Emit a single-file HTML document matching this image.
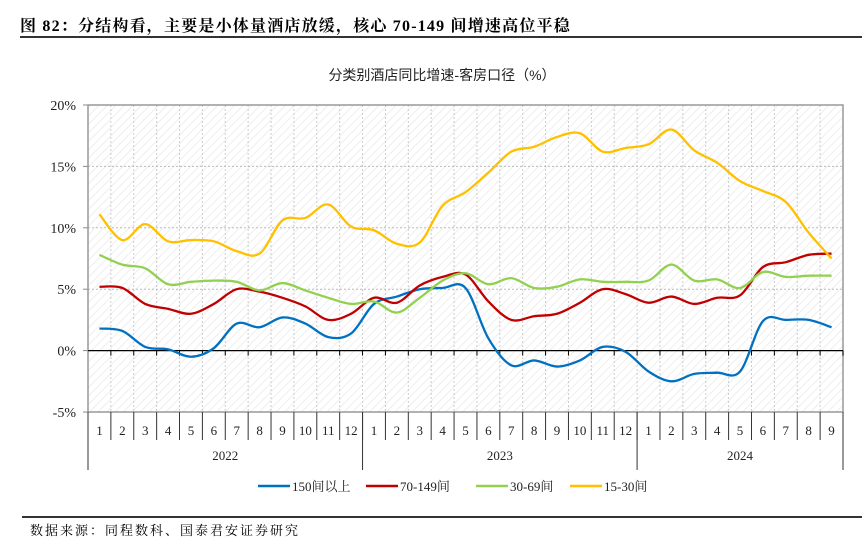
<!DOCTYPE html>
<html><head><meta charset="utf-8"><style>
body{margin:0;background:#fff;width:862px;height:556px;overflow:hidden;font-family:"Liberation Serif","Noto Serif CJK SC",serif;}
#hdr{position:absolute;left:20px;top:13px;font-size:16px;font-weight:bold;letter-spacing:1.2px;white-space:nowrap;}
#hline{position:absolute;left:20px;top:36px;width:842px;height:2px;background:#333;}
#fline{position:absolute;left:22px;top:516px;width:840px;height:2px;background:#333;}
#src{position:absolute;left:30px;top:520px;font-size:13px;letter-spacing:2px;white-space:nowrap;}
svg{position:absolute;left:0;top:0}
</style></head><body>
<div id="hdr">图 82：分结构看，主要是小体量酒店放缓，核心 70-149 间增速高位平稳</div>
<div id="hline"></div>
<svg id="chart" width="862" height="556">
<defs><pattern id="hatch" width="6" height="6" patternUnits="userSpaceOnUse" patternTransform="rotate(45)"><rect width="6" height="6" fill="#fff"/><line x1="0" y1="0" x2="0" y2="6" stroke="#eee" stroke-width="2"/></pattern></defs>
</svg>
<div id="fline"></div>
<div id="src">数据来源：同程数科、国泰君安证券研究</div>
<script>
const months=[1,2,3,4,5,6,7,8,9,10,11,12,1,2,3,4,5,6,7,8,9,10,11,12,1,2,3,4,5,6,7,8,9];
const years=["2022","2023","2024"];
const yearCounts=[12,12,9];
const yTicks=[-5,0,5,10,15,20];
const seriesNames=["150间以上","70-149间","30-69间","15-30间"];
const seriesColors=["#0070C0","#C00000","#92D050","#FFC000"];
const s150=[1.8,1.6,0.3,0.1,-0.5,0.2,2.2,1.9,2.7,2.2,1.1,1.4,3.8,4.4,5.0,5.1,5.1,1.0,-1.2,-0.8,-1.3,-0.8,0.3,-0.1,-1.7,-2.5,-1.9,-1.8,-1.7,2.4,2.5,2.5,1.9];
const s70=[5.2,5.1,3.8,3.4,3.0,3.8,5.0,4.8,4.3,3.6,2.5,3.0,4.3,3.9,5.3,6.0,6.2,4.0,2.5,2.8,3.0,3.9,5.0,4.6,3.9,4.4,3.8,4.3,4.5,6.8,7.2,7.8,7.9];
const s30=[7.8,7.0,6.7,5.4,5.6,5.7,5.6,4.9,5.5,4.9,4.3,3.8,4.0,3.1,4.3,5.7,6.3,5.4,5.9,5.1,5.2,5.8,5.6,5.6,5.7,7.0,5.7,5.8,5.1,6.4,6.0,6.1,6.1];
const s15=[11.1,9.0,10.3,8.9,9.0,8.9,8.1,7.9,10.6,10.8,11.9,10.1,9.8,8.7,8.8,11.8,12.9,14.5,16.2,16.6,17.4,17.7,16.2,16.5,16.8,18.0,16.3,15.3,13.8,13.0,12.1,9.6,7.5];
const series=[s150,s70,s30,s15];
const L=88,R=843,T=105,B=412,ymin=-5,ymax=20;
const n=months.length,cw=(R-L)/n;
const X=i=>L+cw*(i+0.5);
const Y=v=>B-(v-ymin)/(ymax-ymin)*(B-T);
const svg=document.getElementById('chart');
const NS='http://www.w3.org/2000/svg';
function mk(tag,attrs,parent){const e=document.createElementNS(NS,tag);for(const k in attrs)e.setAttribute(k,attrs[k]);(parent||svg).appendChild(e);return e;}
let e;
e=mk('text',{x:442,y:80,'text-anchor':'middle','font-size':14,'font-family':'"Liberation Sans","Noto Sans CJK SC",sans-serif',fill:'#222'});e.textContent='分类别酒店同比增速-客房口径（%）';


e=mk('rect',{x:L,y:T,width:R-L,height:B-T,fill:'url(#hatch)'});


for(let i=1;i<n;i++){e=mk('line',{x1:L+cw*i,x2:L+cw*i,y1:T,y2:B,stroke:'#ccc','stroke-dasharray':'2,2'});

}
yTicks.forEach(t=>{
 if(t!==0&&t!==ymin&&t!==ymax){e=mk('line',{x1:L,x2:R,y1:Y(t),y2:Y(t),stroke:'#bbb','stroke-dasharray':'2,2'});
 
 }
 e=mk('line',{x1:L-5,x2:L,y1:Y(t),y2:Y(t),stroke:'#888'});
 e=mk('text',{x:L-12,y:Y(t)+5,'text-anchor':'end','font-size':14,fill:'#222'});e.textContent=t+'%';
 
 
});
mk('rect',{x:L,y:T,width:R-L,height:B-T,fill:'none',stroke:'#999','stroke-width':1.5});
e=mk('line',{x1:L,x2:R,y1:Y(0),y2:Y(0),stroke:'#000','stroke-width':1.3});


for(let i=1;i<=n;i++)mk('line',{x1:L+cw*i,x2:L+cw*i,y1:Y(0),y2:Y(0)+5,stroke:'#000'});
for(let i=0;i<=n;i++){mk('line',{x1:L+cw*i,x2:L+cw*i,y1:B,y2:B+28,stroke:'#333'});}
months.forEach((m,i)=>{e=mk('text',{x:X(i),y:B+23,'text-anchor':'middle','font-size':13,fill:'#222'});e.textContent=m;

});
let c=0;
years.forEach((yr,k)=>{
 mk('line',{x1:L+cw*c,x2:L+cw*c,y1:B,y2:B+58,stroke:'#333'});
 e=mk('text',{x:L+cw*(c+yearCounts[k]/2),y:B+48,'text-anchor':'middle','font-size':13,fill:'#222'});e.textContent=yr;
 
 
 c+=yearCounts[k];
});
mk('line',{x1:R,x2:R,y1:B,y2:B+58,stroke:'#333'});
function path(vals){
 const p=vals.map((v,i)=>[X(i),Y(v)]);let d='M'+p[0][0]+','+p[0][1];
 for(let i=0;i<p.length-1;i++){const p0=p[i-1]||p[i],p1=p[i],p2=p[i+1],p3=p[i+2]||p2;
 d+=' C'+(p1[0]+(p2[0]-p0[0])/6)+','+(p1[1]+(p2[1]-p0[1])/6)+' '+(p2[0]-(p3[0]-p1[0])/6)+','+(p2[1]-(p3[1]-p1[1])/6)+' '+p2[0]+','+p2[1];}
 return d;}
const sNames=['series-150-plus','series-70-149','series-30-69','series-15-30'];
series.forEach((s,k)=>{e=mk('path',{d:path(s),fill:'none',stroke:seriesColors[k],'stroke-width':2.3});

});
const lx=[258,366,476,570];
seriesNames.forEach((nm,k)=>{
 const g=mk('g',{});
 
 
 mk('line',{x1:lx[k],x2:lx[k]+32,y1:486,y2:486,stroke:seriesColors[k],'stroke-width':2.5},g);
 const t=mk('text',{x:lx[k]+34,y:491,'font-size':13,fill:'#222'},g);t.textContent=nm;
});
</script>
</body></html>
